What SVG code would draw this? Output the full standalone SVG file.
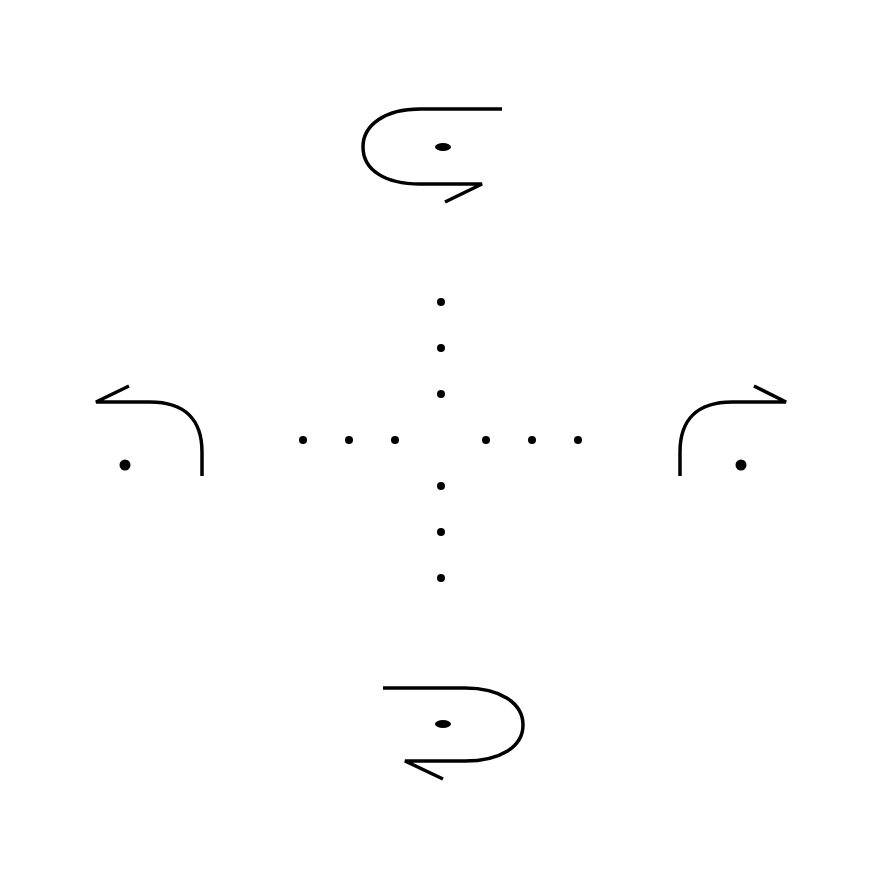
<svg xmlns="http://www.w3.org/2000/svg" width="880" height="880" viewBox="0 0 880 880">
<style>
.c{fill:none;stroke:#000;stroke-width:3.5;stroke-linejoin:miter}
.d{fill:#000}
</style>
<rect width="880" height="880" fill="#fff"/>
<g id="connectors">
<path id="top-arrow" class="c" d="M502,109 H420 C385,109 363,125 363,147 C363,170 385,184 420,184 H482 L445,202"/>
<path id="bottom-arrow" class="c" d="M383,688 H465 C500,688 523,703 523,725 C523,747 500,761 465,761 H405 L443,779"/>
<path id="left-arrow" class="c" d="M202,476 V452 C202,420 185,402 150,402 H96 L129,386"/>
<path id="right-arrow" class="c" d="M680,476 V452 C680,420 697,402 732,402 H786 L754,386"/>
</g>
<g id="top-node"><ellipse class="d" cx="443" cy="147" rx="8" ry="4"/></g>
<g id="bottom-node"><ellipse class="d" cx="443" cy="724" rx="8" ry="4"/></g>
<g id="left-node"><circle class="d" cx="125" cy="465" r="5.5"/></g>
<g id="right-node"><circle class="d" cx="741" cy="465" r="5.5"/></g>
<g id="center">
<circle class="d" cx="441" cy="302" r="4"/>
<circle class="d" cx="441" cy="348" r="4"/>
<circle class="d" cx="441" cy="394" r="4"/>
<circle class="d" cx="441" cy="486" r="4"/>
<circle class="d" cx="441" cy="532" r="4"/>
<circle class="d" cx="441" cy="578" r="4"/>
<circle class="d" cx="303" cy="440" r="4"/>
<circle class="d" cx="349" cy="440" r="4"/>
<circle class="d" cx="395" cy="440" r="4"/>
<circle class="d" cx="486" cy="440" r="4"/>
<circle class="d" cx="532" cy="440" r="4"/>
<circle class="d" cx="578" cy="440" r="4"/>
</g>
</svg>
